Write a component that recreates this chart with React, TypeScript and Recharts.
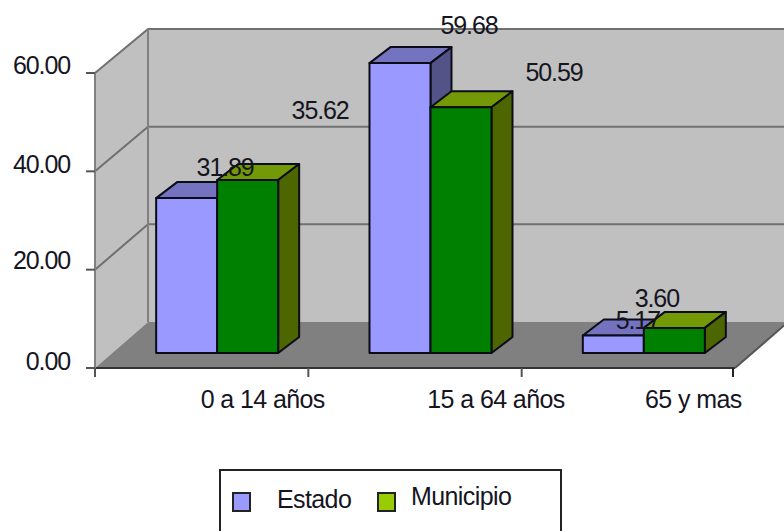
import { BarChart, Bar, XAxis, YAxis, ReferenceArea, LabelList, Legend } from 'recharts'

const CATEGORIES = ['0 a 14 años', '15 a 64 años', '65 y mas']
const ESTADO = [31.89, 59.68, 3.6]
const MUNICIPIO = [35.62, 50.59, 5.17]
const Y_TICKS = [0, 20, 40, 60]

const data = CATEGORIES.map((name, i) => ({ name, estado: ESTADO[i], municipio: MUNICIPIO[i] }))

// the labels in the original sit away from their bars, so nudge each one by hand
const ESTADO_LABEL_NUDGE = [[54, -35], [84.5, -41], [59, -43]]
const MUNICIPIO_LABEL_NUDGE = [[88, -74], [108.5, -38], [-21, -14]]
const X_LABEL_NUDGE = [61, 81, 65]
const Y_LABEL_NUDGE: Record<number, number> = { 0: 2, 20: -1, 40: 2, 60: 1 }

const FONT = '"Liberation Sans", Arial, sans-serif'
const NUMBER_TEXT = { fontFamily: FONT, fontSize: 25, letterSpacing: -1.1, fill: '#15151f' }
const WORD_TEXT = { fontFamily: FONT, fontSize: 25, letterSpacing: -0.6, fill: '#15151f' }

const WALL_DX = 53
const WALL_DY = 46
const BAR_DX = 21
const BAR_DY = 16
const BAR_SHIFT_X = 15.5
const BAR_SHIFT_Y = 15
// bars stand further back than the axis, so they read slightly shorter
const BAR_SCALE = 0.988

const pts = (list: number[][]) => list.map(p => p.join(',')).join(' ')

function Walls({ x, y, width, height }: any) {
  const left = x
  const right = x + width
  const top = y
  const bottom = y + height
  const backLeft = left + WALL_DX
  const backRight = right + WALL_DX
  const backBottom = bottom - WALL_DY
  const backY = (py: number) => backBottom - (bottom - py) * (293 / 295)
  return (
    <g>
      <polygon points={pts([[left, bottom], [left, top], [backLeft, backY(top)], [backLeft, backBottom]])} fill="#c0c0c0" />
      <polygon points={pts([[backLeft, backY(top)], [backRight, backY(top)], [backRight, backBottom], [backLeft, backBottom]])} fill="#c0c0c0" />
      <polygon points={pts([[left, bottom], [right, bottom], [backRight, backBottom], [backLeft, backBottom]])} fill="#808080" />
      {Y_TICKS.filter(t => t > 0).map(t => {
        const py = bottom - (height * t) / 60
        return (
          <polyline
            key={t}
            points={pts([[left, py], [backLeft, backY(py)], [backRight, backY(py)]])}
            fill="none"
            stroke="#707070"
            strokeWidth={2}
          />
        )
      })}
      <line x1={backLeft} y1={backY(top)} x2={backLeft} y2={backBottom} stroke="#808080" strokeWidth={2} />
      <line x1={right} y1={bottom} x2={backRight} y2={backBottom} stroke="#555" strokeWidth={2} />
    </g>
  )
}

function box3d(front: string, topFace: string, sideFace: string) {
  return function Box({ x, y, width, height }: any) {
    const h = height * BAR_SCALE
    const fx = x + BAR_SHIFT_X
    const fb = y + height - BAR_SHIFT_Y
    const fy = fb - h
    const fr = fx + width
    const edge = { stroke: '#0c0c18', strokeWidth: 2, strokeLinejoin: 'round' as const }
    return (
      <g>
        <polygon points={pts([[fx, fy], [fx + BAR_DX, fy - BAR_DY], [fr + BAR_DX, fy - BAR_DY], [fr, fy]])} fill={topFace} {...edge} />
        <polygon points={pts([[fr, fy], [fr + BAR_DX, fy - BAR_DY], [fr + BAR_DX, fb - BAR_DY], [fr, fb]])} fill={sideFace} {...edge} />
        <rect x={fx} y={fy} width={width} height={h} fill={front} {...edge} />
      </g>
    )
  }
}

const EstadoBox = box3d('#9999ff', '#7373bf', '#535388')
const MunicipioBox = box3d('#008000', '#739a06', '#4d6600')

function nudgedLabel(nudge: number[][]) {
  return function NudgedLabel({ x, y, width, value, index }: any) {
    return (
      <text x={x + width / 2 + nudge[index][0]} y={y + nudge[index][1]} textAnchor="middle" style={NUMBER_TEXT}>
        {Number(value).toFixed(2)}
      </text>
    )
  }
}

function YTick({ x, y, payload }: any) {
  return (
    <text x={x - 14} y={y + Y_LABEL_NUDGE[payload.value]} textAnchor="end" style={NUMBER_TEXT}>
      {Number(payload.value).toFixed(2)}
    </text>
  )
}

function XTick({ x, y, payload, index }: any) {
  const half = payload.offset ?? 640 / 6
  const axisY = y - 8
  return (
    <g>
      <line x1={x - half} y1={axisY} x2={x - half} y2={axisY + 9} stroke="#555" strokeWidth={2} />
      {index === CATEGORIES.length - 1 && (
        <line x1={x + half - 2} y1={axisY} x2={x + half - 2} y2={axisY + 9} stroke="#222" strokeWidth={2} />
      )}
      <text x={x + X_LABEL_NUDGE[index]} y={axisY + 40} textAnchor="middle" style={WORD_TEXT}>
        {payload.value}
      </text>
    </g>
  )
}

function LegendBox({ payload }: any) {
  const spots = [
    { swatch: 11, text: 56, top: 14 },
    { swatch: 156, text: 190, top: 11 },
  ]
  return (
    <div style={{ position: 'relative', width: 339, height: 80, border: '2px solid #222', background: '#fff' }}>
      {(payload ?? []).map((item: any, i: number) => (
        <div key={item.value}>
          <div
            style={{
              position: 'absolute',
              left: spots[i].swatch,
              top: 21,
              width: 15,
              height: 16,
              background: item.color,
              border: '2px solid #222',
            }}
          />
          <div
            style={{
              position: 'absolute',
              left: spots[i].text,
              top: spots[i].top,
              fontFamily: FONT,
              fontSize: 25,
              letterSpacing: -0.6,
              color: '#15151f',
              lineHeight: '28px',
            }}
          >
            {item.value}
          </div>
        </div>
      ))}
    </div>
  )
}

export default function App() {
  return (
    <div style={{ position: 'fixed', left: 0, top: 0, width: 784, height: 531, overflow: 'hidden', background: '#fff' }}>
      <BarChart
        width={784}
        height={531}
        data={data}
        margin={{ top: 73, right: 49, bottom: 123, left: 0 }}
        barCategoryGap="21.4%"
        barGap={0}
      >
        <XAxis dataKey="name" height={40} stroke="#333" strokeWidth={2} tickLine={false} tick={XTick} interval={0} />
        <YAxis
          domain={[0, 60]}
          ticks={Y_TICKS}
          width={95}
          stroke="#808080"
          strokeWidth={2}
          tickSize={9}
          tickLine={{ stroke: '#555', strokeWidth: 2 }}
          tick={YTick}
          interval={0}
        />
        <ReferenceArea y1={0} y2={60} shape={Walls} />
        <Legend
          layout="horizontal"
          verticalAlign="middle"
          align="center"
          content={LegendBox}
          wrapperStyle={{ left: 219, top: 469, width: 344, height: 84, bottom: 'auto', right: 'auto' }}
        />
        <Bar dataKey="estado" name="Estado" fill="#9999ff" shape={EstadoBox} isAnimationActive={false}>
          <LabelList dataKey="estado" content={nudgedLabel(ESTADO_LABEL_NUDGE)} />
        </Bar>
        <Bar dataKey="municipio" name="Municipio" fill="#99cc00" shape={MunicipioBox} isAnimationActive={false}>
          <LabelList dataKey="municipio" content={nudgedLabel(MUNICIPIO_LABEL_NUDGE)} />
        </Bar>
      </BarChart>
    </div>
  )
}
